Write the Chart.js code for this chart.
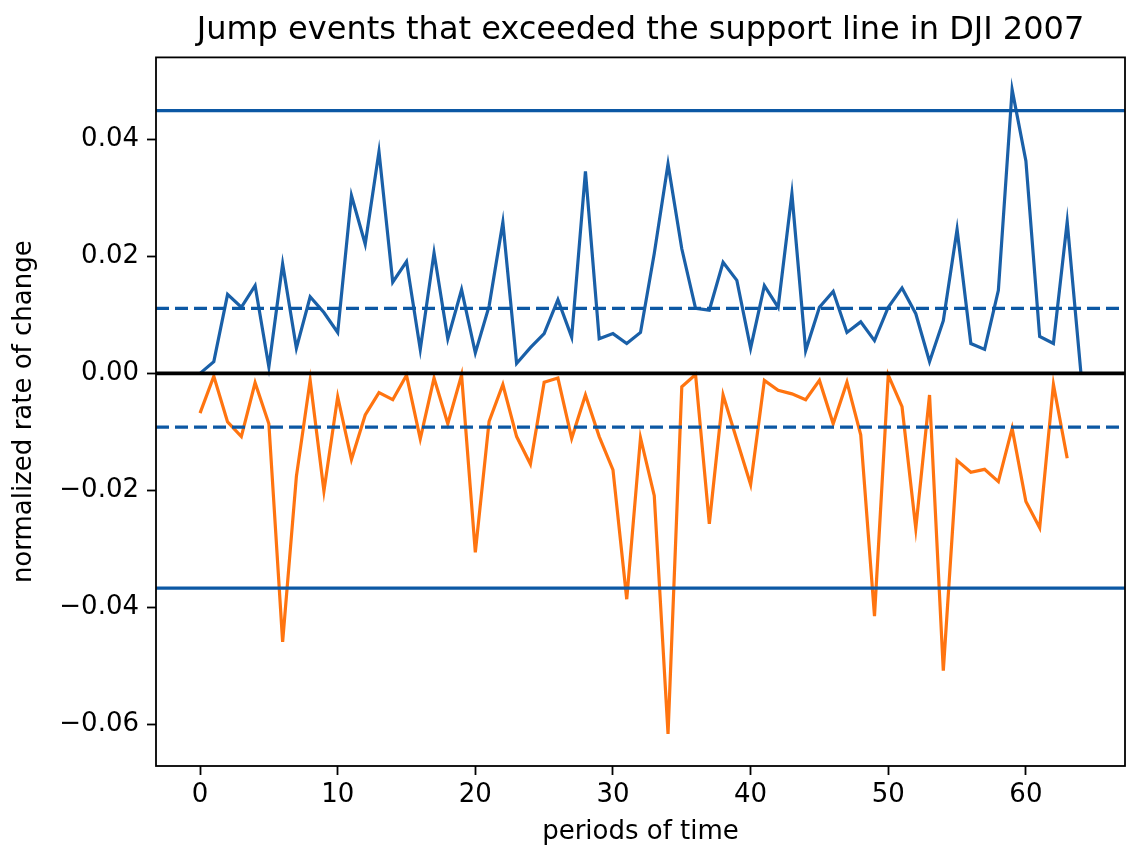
<!DOCTYPE html>
<html>
<head>
<meta charset="utf-8">
<script src="https://cdn.jsdelivr.net/npm/chart.js@4/dist/chart.umd.min.js"></script>
<style>
  html, body { margin: 0; padding: 0; background: #ffffff; }
  #wrap { width: 1129px; height: 850px; }
</style>
</head>
<body>
<div id="wrap"><canvas id="c" width="1129" height="850"></canvas></div>
<script>
// ---- data ----
const chartTitle = "Jump events that exceeded the support line in DJI 2007";
const xLabel = "periods of time";
const yLabel = "normalized rate of change";

const periods = [0,1,2,3,4,5,6,7,8,9,10,11,12,13,14,15,16,17,18,19,20,21,22,23,24,25,26,27,28,29,30,31,32,33,34,35,36,37,38,39,40,41,42,43,44,45,46,47,48,49,50,51,52,53,54,55,56,57,58,59,60,61,62,63,64];

const upJumps = [0.0000, 0.0020, 0.0135, 0.0113, 0.0150, 0.0011, 0.0187, 0.0043, 0.0131, 0.0104,
                 0.0070, 0.0304, 0.0221, 0.0379, 0.0156, 0.0191, 0.0041, 0.0206, 0.0059, 0.0143,
                 0.0035, 0.0115, 0.0258, 0.0017, 0.0044, 0.0068, 0.0126, 0.0062, 0.0345, 0.0059,
                 0.0068, 0.0051, 0.0070, 0.0205, 0.0358, 0.0213, 0.0111, 0.0108, 0.0190, 0.0159,
                 0.0043, 0.0150, 0.0113, 0.0307, 0.0039, 0.0113, 0.0140, 0.0070, 0.0088, 0.0056,
                 0.0113, 0.0146, 0.0102, 0.0020, 0.0090, 0.0246, 0.0051, 0.0041, 0.0142, 0.0485,
                 0.0363, 0.0063, 0.0051, 0.0259, 0.0000];

const downJumps = [-0.0068, -0.0005, -0.0083, -0.0108, -0.0016, -0.0086, -0.0459, -0.0176, -0.0012, -0.0201,
                   -0.0040, -0.0147, -0.0071, -0.0033, -0.0045, -0.0003, -0.0112, -0.0008, -0.0086, -0.0003,
                   -0.0306, -0.0082, -0.0019, -0.0108, -0.0155, -0.0015, -0.0008, -0.0111, -0.0037, -0.0108,
                   -0.0165, -0.0386, -0.0110, -0.0209, -0.0616, -0.0023, -0.0002, -0.0257, -0.0037, -0.0114,
                   -0.0190, -0.0012, -0.0029, -0.0035, -0.0045, -0.0012, -0.0086, -0.0015, -0.0105, -0.0415,
                   -0.0003, -0.0057, -0.0265, -0.0037, -0.0508, -0.0149, -0.0169, -0.0164, -0.0185, -0.0094,
                   -0.0219, -0.0264, -0.0019, -0.0145];

const upperSupport = 0.0449;   // solid
const upperMean = 0.0111;      // dashed
const lowerMean = -0.0092;     // dashed
const lowerSupport = -0.0367;  // solid
const zeroLevel = 0;

const xTicks = [0, 10, 20, 30, 40, 50, 60];
const yTicks = [-0.06, -0.04, -0.02, 0.00, 0.02, 0.04];
const xLimits = [-3.2, 67.2];
const yLimits = [-0.0671, 0.0540];

// ---- build ----
const toPoints = (vals) => vals.map((v, i) => ({ x: periods[i], y: v }));
const hline = (v) => [{ x: xLimits[0], y: v }, { x: xLimits[1], y: v }];

const BLUE = '#1a60a8';
const HBLUE = '#0c58a4';
const ORANGE = '#ff7410';
const FONT = "'DejaVu Sans', sans-serif";

const frame = {
  id: 'frame',
  afterLayout(chart) {
    const t = chart.titleBlock;
    if (t) { t.left = chart.chartArea.left; t.right = chart.chartArea.right; t.width = t.right - t.left; }
  },
  afterDatasetsDraw(chart) {
    const { ctx, chartArea: a } = chart;
    ctx.save();
    ctx.strokeStyle = '#000';
    ctx.lineWidth = 1.8;
    ctx.strokeRect(a.left, a.top, a.right - a.left, a.bottom - a.top);
    ctx.restore();
  }
};

const baseLine = { pointRadius: 0, fill: false, tension: 0, borderWidth: 3.2 };

new Chart(document.getElementById('c'), {
  type: 'line',
  data: {
    datasets: [
      Object.assign({ label: 'zero', data: hline(zeroLevel), borderColor: '#000' }, baseLine, { borderWidth: 3.6 }),
      Object.assign({ label: 'upper support', data: hline(upperSupport), borderColor: HBLUE }, baseLine),
      Object.assign({ label: 'upper mean', data: hline(upperMean), borderColor: HBLUE, borderDash: [13, 6] }, baseLine),
      Object.assign({ label: 'lower mean', data: hline(lowerMean), borderColor: HBLUE, borderDash: [13, 6] }, baseLine),
      Object.assign({ label: 'lower support', data: hline(lowerSupport), borderColor: HBLUE }, baseLine),
      Object.assign({ label: 'up jumps', data: toPoints(upJumps), borderColor: BLUE }, baseLine),
      Object.assign({ label: 'down jumps', data: toPoints(downJumps), borderColor: ORANGE }, baseLine)
    ]
  },
  options: {
    responsive: false,
    animation: false,
    devicePixelRatio: 1,
    layout: { padding: { left: 0, right: 4, top: 0, bottom: 0 } },
    plugins: {
      legend: { display: false },
      tooltip: { enabled: false },
      title: {
        display: true,
        text: chartTitle,
        color: '#000',
        font: { family: FONT, size: 32, weight: 'normal' },
        padding: { top: 11, bottom: 8 }
      }
    },
    scales: {
      x: {
        type: 'linear',
        min: xLimits[0],
        max: xLimits[1],
        afterBuildTicks: (s) => { s.ticks = xTicks.map(v => ({ value: v })); },
        afterFit: (s) => { s.height = 84; },
        grid: { drawOnChartArea: false, drawTicks: true, tickLength: 9, tickColor: '#000', tickWidth: 1.8, color: '#000' },
        border: { display: false },
        ticks: { color: '#000', font: { family: FONT, size: 26 }, padding: 5, maxRotation: 0, autoSkip: false,
                 callback: (v) => String(v) },
        title: { display: true, text: xLabel, color: '#000', font: { family: FONT, size: 26 }, padding: { top: 0, bottom: 2 } }
      },
      y: {
        type: 'linear',
        min: yLimits[0],
        max: yLimits[1],
        afterBuildTicks: (s) => { s.ticks = yTicks.map(v => ({ value: v })); },
        afterFit: (s) => { s.width = 156; },
        grid: { drawOnChartArea: false, drawTicks: true, tickLength: 9, tickColor: '#000', tickWidth: 1.8, color: '#000' },
        border: { display: false },
        ticks: { color: '#000', font: { family: FONT, size: 26 }, padding: 8, autoSkip: false,
                 callback: (v) => v.toFixed(2).replace('-', '\u2212') },
        title: { display: true, text: yLabel, color: '#000', font: { family: FONT, size: 26 }, padding: { top: 9, bottom: 0 } }
      }
    }
  },
  plugins: [frame]
});
</script>
</body>
</html>
